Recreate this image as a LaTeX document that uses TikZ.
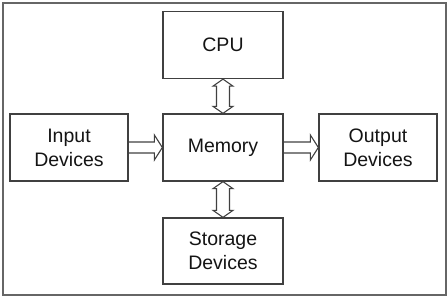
\documentclass[tikz,border=0pt]{standalone}
\usepackage{fontspec}
\setmainfont{Liberation Sans}
\usetikzlibrary{calc}
\definecolor{linegray}{gray}{0.25}
\definecolor{framegray}{gray}{0.4}
\definecolor{textgray}{gray}{0.08}

\begin{document}
\begin{tikzpicture}[x=1pt, y=1pt,
    unit/.style={draw=linegray, line width=1.3pt, inner sep=0pt,
      minimum width=120pt, minimum height=67pt, align=center,
      text=textgray, font=\fontsize{19.5}{24}\selectfont},
    flow/.style={draw=linegray, line width=1.1pt}]
  \useasboundingbox (0,0) rectangle (448,298);
  % outer frame
  \draw[framegray, line width=1.3pt] (3,3) rectangle (446,295);

  % units
  \node[unit] (cpu) at (223,253) {CPU};
  \node[unit] (mem) at (223,150.5) {Memory};
  \node[unit, minimum width=118pt] (in) at (69,150.5) {Input\\Devices};
  \node[unit, minimum width=118pt] (out) at (378,150.5) {Output\\Devices};
  \node[unit, minimum height=66pt] (store) at (223,47) {Storage\\Devices};

  % hollow arrows: input -> memory -> output
  \draw[flow] ($(in.east)+(0,5.5)$) -- ($(mem.west)+(-8,5.5)$) -- ++(0,7)
    -- (mem.west) -- ++(-8,-12.5) -- ++(0,7) -- ($(in.east)+(0,-5.5)$);
  \draw[flow] ($(mem.east)+(0,5.5)$) -- ($(out.west)+(-8,5.5)$) -- ++(0,7)
    -- (out.west) -- ++(-8,-12.5) -- ++(0,7) -- ($(mem.east)+(0,-5.5)$);

  % hollow double arrows: cpu <-> memory <-> storage
  \draw[flow] (cpu.south) -- ++(-10,-7) -- ++(3.5,0)
    -- ($(mem.north)+(-6.5,7)$) -- ++(-3.5,0) -- (mem.north) -- ++(10,7)
    -- ++(-3.5,0) -- ($(cpu.south)+(6.5,-7)$) -- ++(3.5,0) -- cycle;
  \draw[flow] (mem.south) -- ++(-10,-7) -- ++(3.5,0)
    -- ($(store.north)+(-6.5,7)$) -- ++(-3.5,0) -- (store.north) -- ++(10,7)
    -- ++(-3.5,0) -- ($(mem.south)+(6.5,-7)$) -- ++(3.5,0) -- cycle;
\end{tikzpicture}
\end{document}
